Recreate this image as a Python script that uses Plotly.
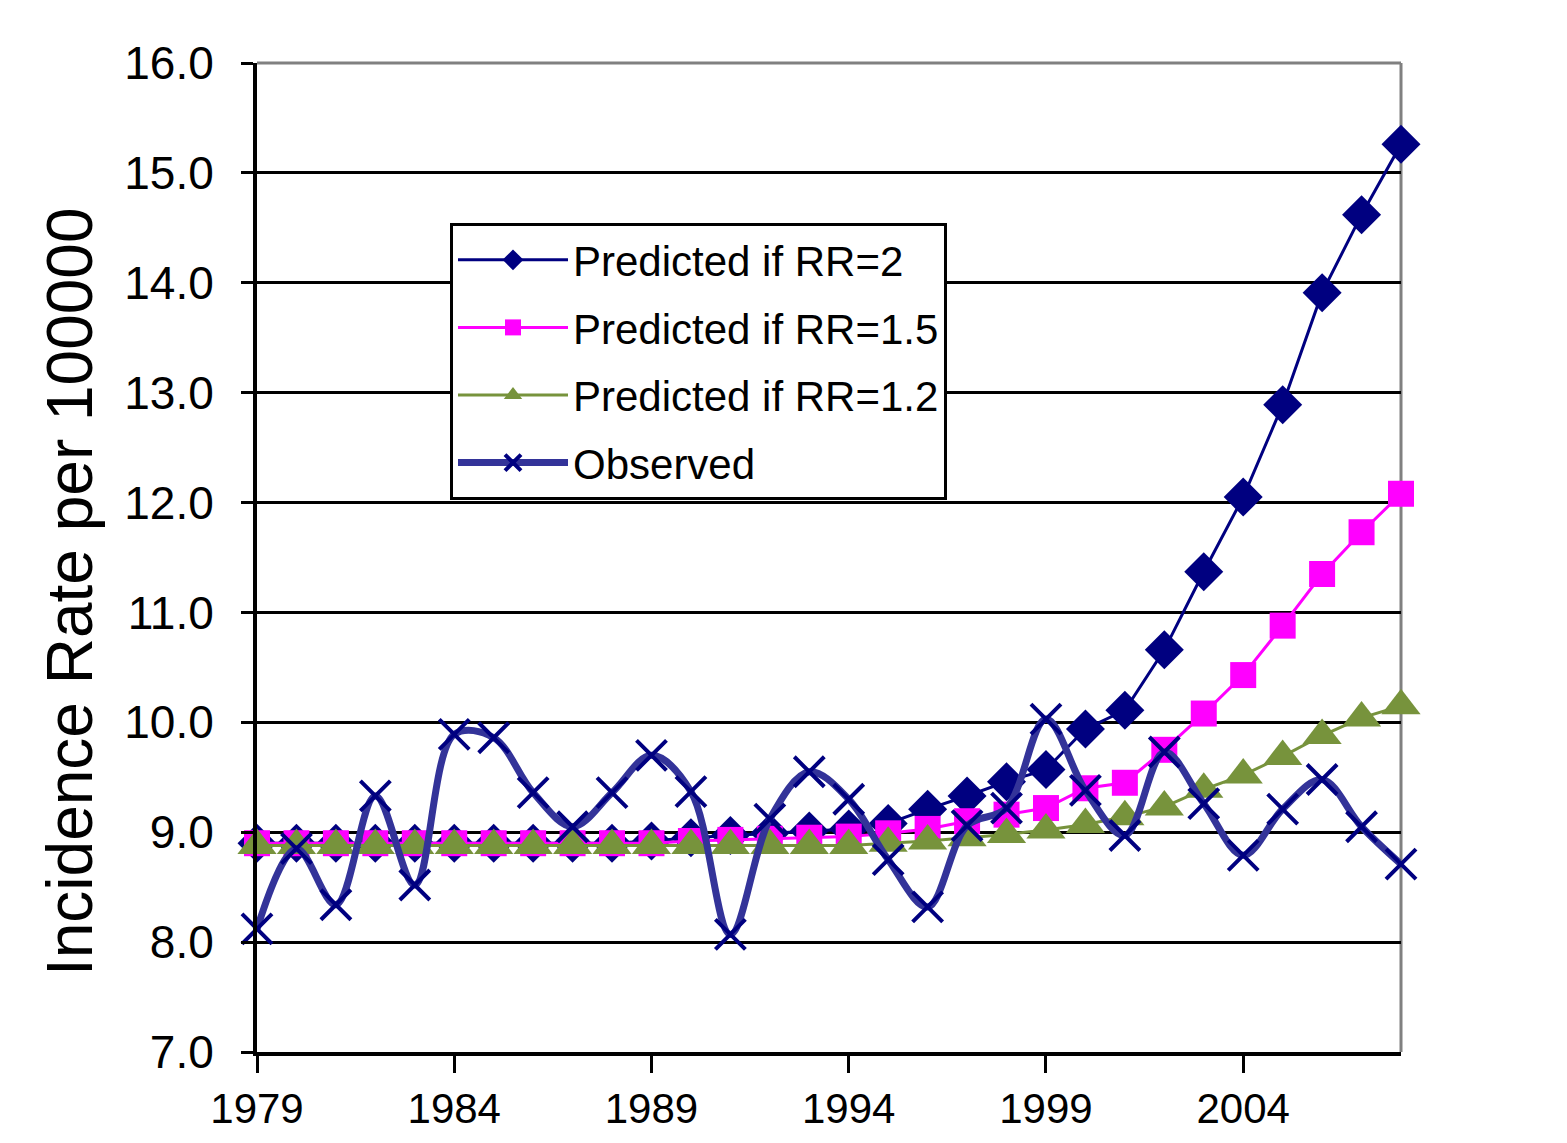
import plotly.graph_objects as go

years = list(range(1979, 2009))

rr2 = [8.90, 8.90, 8.90, 8.90, 8.90, 8.90, 8.90, 8.90, 8.90, 8.90,
       8.92, 8.95, 8.97, 8.99, 9.01, 9.03, 9.08, 9.21, 9.33, 9.46,
       9.57, 9.94, 10.11, 10.66, 11.37, 12.05, 12.89, 13.91, 14.62, 15.26]

rr15 = [8.90, 8.90, 8.90, 8.90, 8.90, 8.90, 8.90, 8.90, 8.90, 8.90,
        8.90, 8.92, 8.93, 8.94, 8.95, 8.96, 8.99, 9.03, 9.10, 9.16,
        9.22, 9.40, 9.45, 9.75, 10.08, 10.43, 10.88, 11.35, 11.73, 12.08]

rr12 = [8.88, 8.88, 8.88, 8.88, 8.88, 8.88, 8.88, 8.88, 8.88, 8.88,
        8.88, 8.88, 8.88, 8.88, 8.88, 8.88, 8.90, 8.92, 8.95, 8.98,
        9.02, 9.07, 9.14, 9.23, 9.39, 9.52, 9.69, 9.88, 10.04, 10.15]

observed = [8.12, 8.85, 8.34, 9.33, 8.52, 9.89, 9.86, 9.36, 9.05, 9.36,
            9.70, 9.37, 8.07, 9.12, 9.55, 9.30, 8.75, 8.32, 9.06, 9.22,
            10.03, 9.38, 8.97, 9.73, 9.26, 8.79, 9.21, 9.48, 9.05, 8.71]

x_tick_vals = [1979, 1984, 1989, 1994, 1999, 2004]
y_tick_vals = [7, 8, 9, 10, 11, 12, 13, 14, 15, 16]

FONT = "Liberation Sans, Arial, sans-serif"

# page body has an 8px margin; plot area target: x 257..1401, y 63..1052
PW, PH = 1144, 989
ML, MT, MR, MB = 249, 55, 150, 83

fig = go.Figure()

fig.add_trace(go.Scatter(
    x=years, y=rr2, name="Predicted if RR=2", mode="lines+markers",
    line=dict(color="#000080", width=3),
    marker=dict(symbol="diamond", size=30, color="#000080"),
    cliponaxis=False, legendgroup="a"))

fig.add_trace(go.Scatter(
    x=years, y=rr15, name="Predicted if RR=1.5", mode="lines+markers",
    line=dict(color="#FF00FF", width=3),
    marker=dict(symbol="square", size=26, color="#FF00FF"),
    cliponaxis=False, legendgroup="b"))

fig.add_trace(go.Scatter(
    x=years, y=rr12, name="Predicted if RR=1.2", mode="lines+markers",
    line=dict(color="#77933C", width=3),
    marker=dict(symbol="triangle-up", size=34, color="#77933C"),
    cliponaxis=False, legendgroup="c"))

fig.add_trace(go.Scatter(
    x=years, y=observed, name="Observed", mode="lines+markers",
    line=dict(color="#333399", width=7, shape="spline", smoothing=1.0),
    marker=dict(symbol="x-thin", size=30, color="#000080",
                line=dict(color="#000080", width=4)),
    cliponaxis=False, legendgroup="d"))

fig.update_layout(
    width=ML + PW + MR, height=MT + PH + MB,
    margin=dict(l=ML, r=MR, t=MT, b=MB),
    paper_bgcolor="white", plot_bgcolor="white",
    showlegend=True,
    legend=dict(
        x=(450 - 257) / PW, y=(1052 - 223) / PH,
        xanchor="left", yanchor="top",
        bgcolor="white", bordercolor="black", borderwidth=3,
        font=dict(family=FONT, size=42, color="black"),
        tracegroupgap=10, itemwidth=110,
    ),
    xaxis=dict(
        range=[1979, 2008], tickvals=x_tick_vals,
        ticktext=[str(v) for v in x_tick_vals],
        showgrid=False, zeroline=False, automargin=False,
        showline=True, linecolor="black", linewidth=4,
        ticks="outside", ticklen=17, tickwidth=3, tickcolor="black",
        tickfont=dict(family=FONT, size=42, color="black"),
        ticklabelstandoff=0,
    ),
    yaxis=dict(
        range=[7, 16], tickvals=y_tick_vals,
        ticktext=[f"{v:.1f}" for v in y_tick_vals],
        showgrid=True, gridcolor="black", gridwidth=3,
        zeroline=False, automargin=False,
        showline=True, linecolor="black", linewidth=4,
        ticks="outside", ticklen=12, tickwidth=3, tickcolor="black",
        tickfont=dict(family=FONT, size=46, color="black"),
        ticklabelstandoff=18,
    ),
    annotations=[dict(
        text="Incidence Rate per 100000", xref="paper", yref="paper",
        x=(70 - 257) / PW, y=(1052 - 592) / PH,
        xanchor="center", yanchor="middle", textangle=-90, showarrow=False,
        font=dict(family=FONT, size=64, color="black"),
    )],
    shapes=[
        dict(type="line", xref="paper", yref="paper", x0=0, x1=1, y0=1, y1=1,
             line=dict(color="#808080", width=3), layer="above"),
        dict(type="line", xref="paper", yref="paper", x0=1, x1=1, y0=0, y1=1,
             line=dict(color="#808080", width=3), layer="below"),
    ],
)

fig.write_html("out.html")
